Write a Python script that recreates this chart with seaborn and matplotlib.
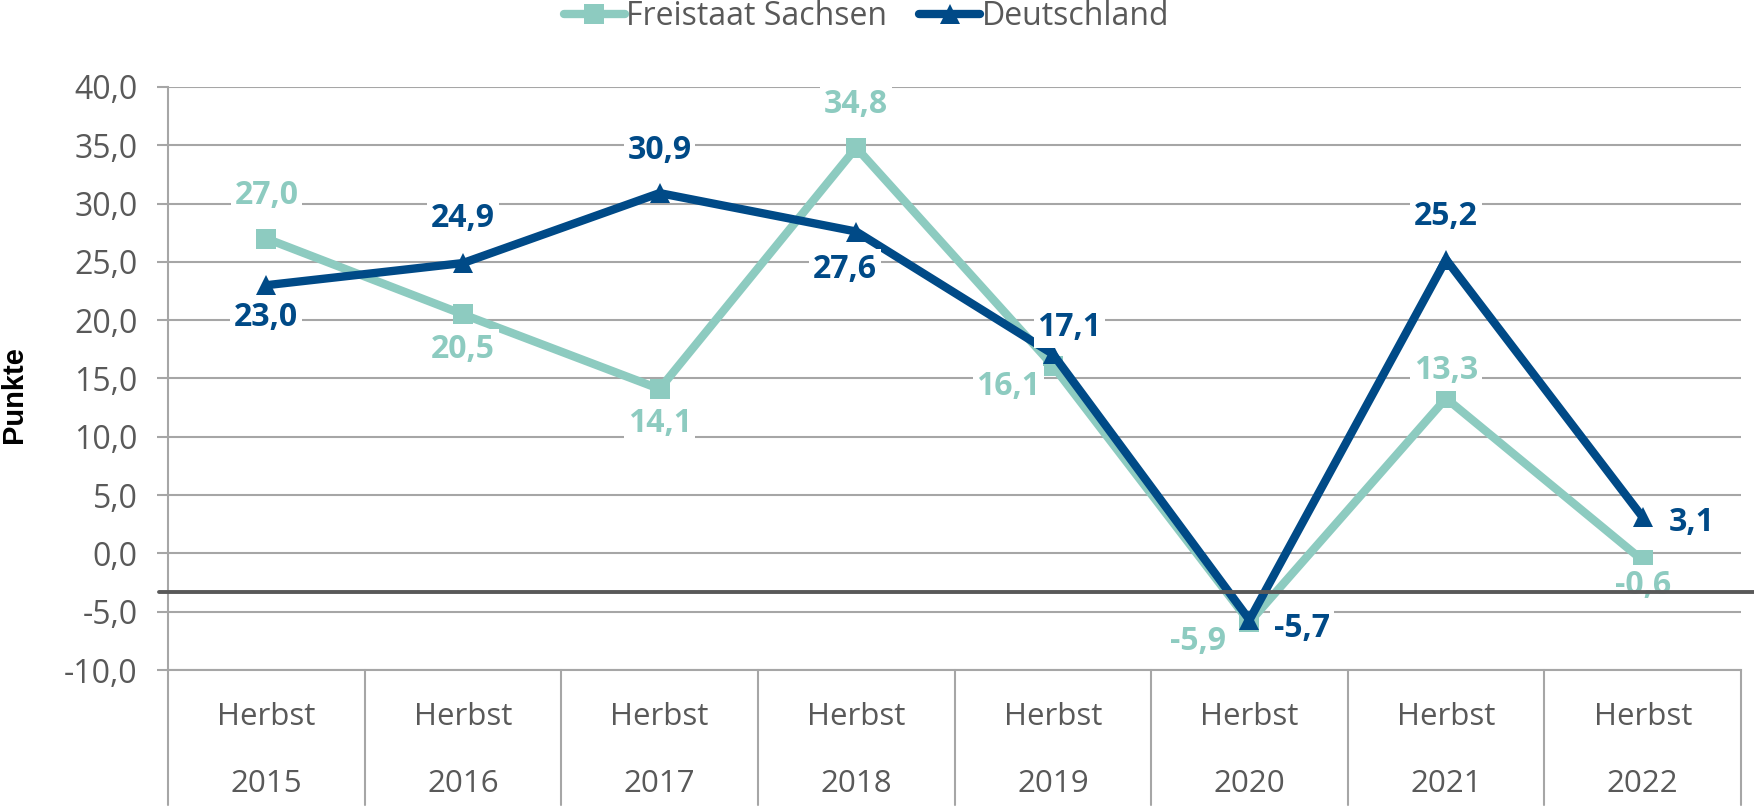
import matplotlib
matplotlib.use("Agg")
import matplotlib.pyplot as plt
import matplotlib.transforms as mtransforms
from matplotlib.ticker import FuncFormatter, MultipleLocator
from matplotlib.lines import Line2D
import seaborn as sns
import pandas as pd
import numpy as np

seasons = ["Herbst"] * 8
years = ["2015", "2016", "2017", "2018", "2019", "2020", "2021", "2022"]
sachsen = [27.0, 20.5, 14.1, 34.8, 16.1, -5.9, 13.3, -0.6]
deutschland = [23.0, 24.9, 30.9, 27.6, 17.1, -5.7, 25.2, 3.1]
series_names = ["Freistaat Sachsen", "Deutschland"]

C_SA = "#8DCBC0"
C_DE = "#004A87"
GRID = "#A6A6A6"
TXT = "#595959"

sns.set_theme(style="white")
plt.rcParams["font.family"] = ["Open Sans", "DejaVu Sans"]

df = pd.DataFrame({
    "pos": list(range(len(years))) * 2,
    "value": sachsen + deutschland,
    "series": [series_names[0]] * len(years) + [series_names[1]] * len(years),
})

fig = plt.figure(figsize=(17.54, 8.09), dpi=100)
ax = fig.add_axes([0.0958, 0.1718, 0.8968, 0.7207])

sns.lineplot(data=df, x="pos", y="value", hue="series", style="series",
             palette={series_names[0]: C_SA, series_names[1]: C_DE},
             markers={series_names[0]: "s", series_names[1]: "^"},
             dashes=False, linewidth=6, markersize=15, markeredgewidth=0,
             ax=ax, legend=False, zorder=3)

ax.set_xlim(-0.5, 7.5)
ax.set_ylim(-10, 40)
ax.yaxis.set_major_locator(MultipleLocator(5))
ax.yaxis.set_major_formatter(FuncFormatter(lambda v, p: f"{v:.1f}".replace(".", ",")))
ax.grid(axis="y", color=GRID, linewidth=1.5, zorder=0)
ax.grid(axis="x", visible=False)
for s in ["top", "right"]:
    ax.spines[s].set_visible(False)
ax.spines["left"].set_color(GRID)
ax.spines["left"].set_linewidth(1.5)
ax.spines["bottom"].set_color(GRID)
ax.spines["bottom"].set_linewidth(1.5)
ax.tick_params(axis="y", length=8, width=1.5, color=GRID, labelsize=23,
               labelcolor=TXT, pad=14, left=True)
ax.tick_params(axis="x", length=0, labelsize=22.5, labelcolor=TXT, pad=23)
ax.set_xticks(range(len(years)))
ax.set_xticklabels([f"{s}\n{y}" for s, y in zip(seasons, years)], linespacing=2.6)
ax.set_xlabel("")
ax.set_ylabel("Punkte", fontsize=21, fontweight="bold", color="black",
              family=["Liberation Sans", "DejaVu Sans"])
ax.yaxis.set_label_coords(-0.089, 0.472)

# category separators below the axis
trans = mtransforms.blended_transform_factory(ax.transData, ax.transAxes)
for xs in np.arange(-0.5, 8.0, 1.0):
    ax.plot([xs, xs], [0, -0.232], transform=trans, color=GRID, lw=1.5,
            clip_on=False, zorder=1)

# dark horizontal reference line
trans2 = mtransforms.blended_transform_factory(ax.transAxes, ax.transData)
ax.plot([-0.006, 1.01], [-3.35, -3.35], transform=trans2, color="#595959",
        lw=2.8, clip_on=False, zorder=6)

# data labels (offsets in points)
sa_off = [(0, 31), (0, -25), (0, -25), (0, 31), (-32, -15), (-37, -14), (0, 20), (0, -18)]
de_off = [(0, -23), (0, 32), (0, 31), (-8, -27), (12, 19), (38, -6), (0, 31), (35, -4)]

def fmt(v):
    return f"{v:.1f}".replace(".", ",")

bbox = dict(boxstyle="square,pad=0.12", fc="white", ec="none")
for i, v in enumerate(sachsen):
    ax.annotate(fmt(v), (i, v), xytext=sa_off[i], textcoords="offset points",
                ha="center", va="center", fontsize=23, fontweight="bold",
                color=C_SA, zorder=5, bbox=bbox)
for i, v in enumerate(deutschland):
    ax.annotate(fmt(v), (i, v), xytext=de_off[i], textcoords="offset points",
                ha="center", va="center", fontsize=23, fontweight="bold",
                color=C_DE, zorder=5, bbox=bbox)

handles = [
    Line2D([], [], color=C_SA, lw=6, marker="s", markersize=15, markeredgewidth=0,
           solid_capstyle="round"),
    Line2D([], [], color=C_DE, lw=6, marker="^", markersize=15, markeredgewidth=0,
           solid_capstyle="round"),
]
fig.legend(handles, series_names, loc="upper center", bbox_to_anchor=(0.494, 1.035),
           ncol=2, frameon=False, fontsize=23, handlelength=1.9, handletextpad=0.05,
           columnspacing=1.0, labelcolor=TXT)

fig.savefig("out.png", dpi=100)
